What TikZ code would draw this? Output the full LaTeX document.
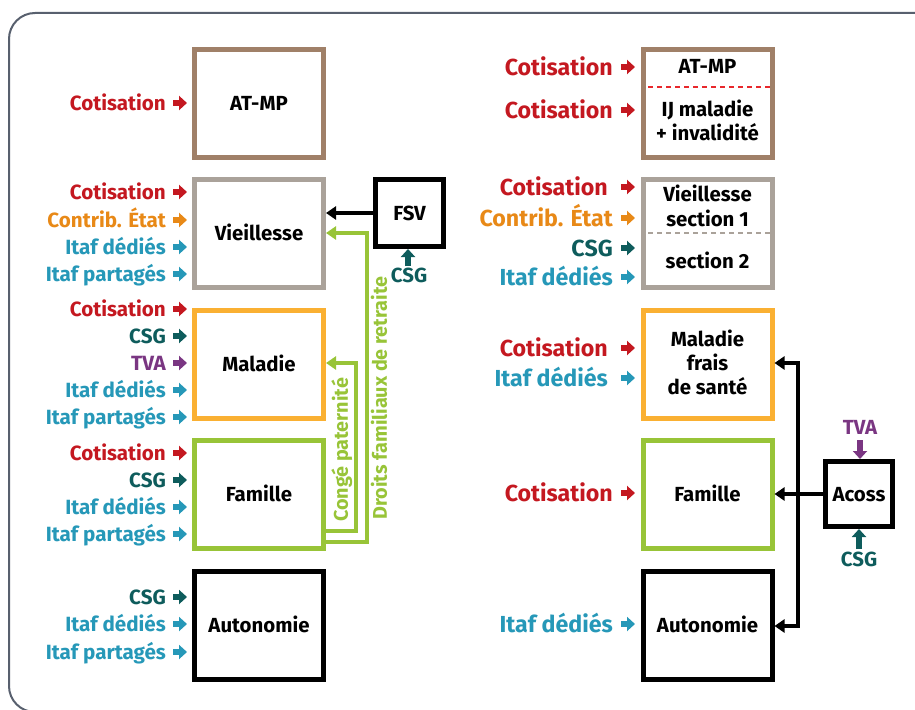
\documentclass[tikz,border=0pt]{standalone}
\usepackage{fontspec}
\setmainfont{Fira Sans}
\usetikzlibrary{arrows.meta}
\definecolor{redc}{RGB}{196,24,32}
\definecolor{orangec}{RGB}{232,137,23}
\definecolor{bluec}{RGB}{38,152,184}
\definecolor{tealc}{RGB}{14,92,92}
\definecolor{purplec}{RGB}{122,54,130}
\definecolor{brownc}{RGB}{160,128,104}
\definecolor{grayc}{RGB}{170,162,154}
\definecolor{yellowc}{RGB}{250,176,50}
\definecolor{greenc}{RGB}{152,196,56}
\definecolor{framec}{RGB}{88,96,110}
\definecolor{dashred}{RGB}{232,40,44}
\newcommand\bxfont{\bfseries\fontsize{20.4}{24}\selectfont}
\newcommand\lbfont{\bfseries\fontsize{20.6}{24}\selectfont}
\newcommand\rlbfont{\bfseries\fontsize{23.2}{26}\selectfont}
\tikzset{
  box/.style={draw, line width=5pt, minimum width=129pt, minimum height=108pt,
    inner sep=0pt, font=\bxfont, text height=14pt, text depth=0pt},
  smallbox/.style={draw, line width=5pt, inner sep=0pt, font=\bxfont,
    text height=14pt, text depth=0pt},
  btxt/.style={inner sep=0pt, font=\bxfont, text height=14pt, text depth=0pt},
  lab/.style={anchor=east, inner sep=0pt, font=\lbfont, text height=14.2pt, text depth=0pt},
  rlab/.style={anchor=east, inner sep=0pt, font=\rlbfont, text height=16pt, text depth=0pt},
  smallarr/.style={line width=5.5pt, -{Triangle[length=8pt,width=14pt]}},
  conn/.style={line width=4pt, -{Triangle[length=10pt,width=13pt]}},
  gconn/.style={greenc, line width=4pt, -{Triangle[length=10pt,width=13pt]}},
  gtxt/.style={inner sep=0pt, rotate=90, text=greenc, font=\bfseries\fontsize{19.8}{22}\selectfont,
    text height=13.6pt, text depth=0pt},
}
\newcommand\llab[4]{%
  \node[lab, text=#3] (#1) at (166,#2) {#4};
  \draw[smallarr, #3] (173,#2) -- (187,#2);}
\newcommand\rlab[5]{%
  \node[rlab, text=#3] (#1) at (#5,#2) {#4};
  \draw[smallarr, #3] (621,#2) -- (635,#2);}
\begin{document}
\begin{tikzpicture}[x=1pt,y=-1pt]
\useasboundingbox (0,0) rectangle (915,709);
\draw[framec, line width=2pt, rounded corners=26pt] (9,13) rectangle (945,712);

% ---------- left column ----------
\node[box, draw=brownc] (atl) at (259,103.5) {AT-MP};
\node[box, draw=grayc] (vl) at (259,233.5) {Vieillesse};
\node[box, draw=yellowc] (ml) at (259,364.5) {Maladie};
\node[box, draw=greenc] (fl) at (259,494.5) {Famille};
\node[box, draw=black] (al) at (259,625.5) {Autonomie};

\llab{l1}{103}{redc}{Cotisation}
\llab{l2}{192}{redc}{Cotisation}
\llab{l3}{220}{orangec}{Contrib. État}
\llab{l4}{247}{bluec}{Itaf dédiés}
\llab{l5}{274}{bluec}{Itaf partagés}
\llab{l6}{309}{redc}{Cotisation}
\llab{l7}{336}{tealc}{CSG}
\llab{l8}{363}{purplec}{TVA}
\llab{l9}{390}{bluec}{Itaf dédiés}
\llab{l10}{417}{bluec}{Itaf partagés}
\llab{l11}{453}{redc}{Cotisation}
\llab{l12}{480}{tealc}{CSG}
\llab{l13}{507}{bluec}{Itaf dédiés}
\llab{l14}{534}{bluec}{Itaf partagés}
\llab{l15}{597}{tealc}{CSG}
\llab{l16}{624}{bluec}{Itaf dédiés}
\llab{l17}{652}{bluec}{Itaf partagés}

% FSV
\node[smallbox, minimum width=68pt, minimum height=67pt] (fsv) at (409.5,213) {FSV};
\draw[conn] (fsv.west) -- (fsv.west -| vl.east);
\node[btxt, text=tealc] (fsvcsg) at (409,275) {CSG};
\draw[smallarr, tealc] (408,266) -- (fsv.south -| 408,0);

% green connectors
\coordinate (dfr) at (367,233);
\coordinate (cp) at (356,363);
\draw[gconn] (fl.east |- 0,542) -| (dfr) -- (vl.east |- dfr);
\draw[gconn] (fl.east |- 0,531) -| (cp) -- (ml.east |- cp);
\node[gtxt] (dfrt) at (380,398) {Droits familiaux de retraite};
\node[gtxt] (cpt) at (341,450) {Congé paternité};

% ---------- right column ----------
\node[box, draw=brownc] (atr) at (707.5,103.5) {};
\node[btxt] (atr1) at (707.5,67) {AT-MP};
\draw[dashred, line width=1.6pt, dash pattern=on 5pt off 4pt] (648,87) -- (770,87);
\node[btxt] (atr2) at (707.5,109) {IJ maladie};
\node[btxt] (atr3) at (707.5,133.5) {+ invalidité};

\node[box, draw=grayc] (vr) at (707.5,233.5) {};
\node[btxt] (vr1) at (707.5,194) {Vieillesse};
\node[btxt] (vr2) at (707.5,219) {section 1};
\draw[grayc, line width=1.6pt, dash pattern=on 5pt off 4pt] (648,233) -- (770,233);
\node[btxt] (vr3) at (707.5,261.5) {section 2};

\node[box, draw=yellowc] (mr) at (707.5,364.5) {};
\node[btxt] (mr1) at (707.5,339) {Maladie};
\node[btxt] (mr2) at (707.5,363) {frais};
\node[btxt] (mr3) at (707.5,387.5) {de santé};

\node[box, draw=greenc] (fr) at (707.5,494.5) {Famille};
\node[box, draw=black] (ar) at (707.5,625.5) {Autonomie};

\rlab{r1}{67}{redc}{Cotisation}{613}
\rlab{r2}{110}{redc}{Cotisation}{613}
\rlab{r3}{187}{redc}{Cotisation}{608}
\rlab{r4}{218}{orangec}{Contrib. État}{613}
\rlab{r5}{248}{tealc}{CSG}{613}
\rlab{r6}{277}{bluec}{Itaf dédiés}{613}
\rlab{r7}{348}{redc}{Cotisation}{608}
\rlab{r8}{378}{bluec}{Itaf dédiés}{608}
\rlab{r9}{493}{redc}{Cotisation}{613}
\rlab{r10}{624}{bluec}{Itaf dédiés}{613}

% Acoss
\node[smallbox, minimum width=67pt, minimum height=65pt] (acoss) at (859,494) {Acoss};
\node[btxt, text=purplec] (tva) at (860,427) {TVA};
\draw[smallarr, purplec] (860,440) -- (acoss.north -| 860,0);
\node[btxt, text=tealc] (acsg) at (859,559) {CSG};
\draw[smallarr, tealc] (859,549) -- (acoss.south -| 859,0);
\coordinate (j) at (798,494);
\draw[conn] (acoss.west) -- (fr.east |- acoss.west);
\draw[conn] (j) |- (mr.east |- 0,363);
\draw[conn] (j) |- (ar.east |- 0,626);
\end{tikzpicture}
\end{document}
